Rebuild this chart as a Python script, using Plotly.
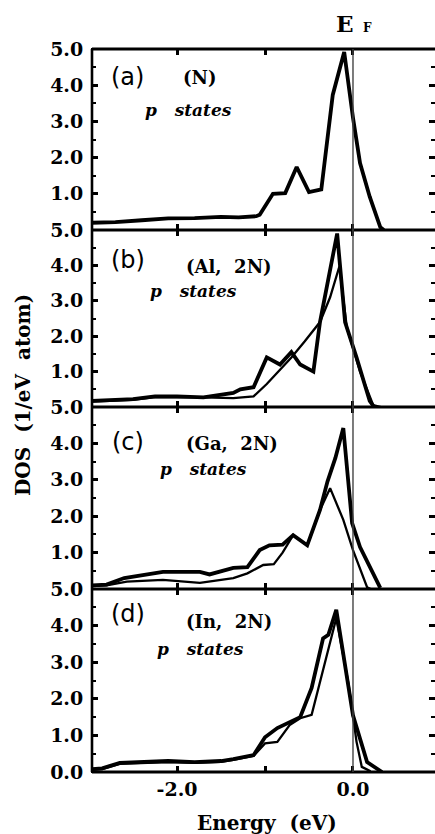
import plotly.graph_objects as go
from plotly.subplots import make_subplots

# ---------------- data ----------------
# panel (a) (N) p states
a_E = [-2.97, -2.7, -2.4, -2.1, -1.8, -1.5, -1.3, -1.1, -1.06, -0.91, -0.77, -0.64, -0.50, -0.36, -0.23, -0.10, 0.0, 0.08, 0.19, 0.31, 0.35]
a_D = [0.2, 0.22, 0.27, 0.32, 0.33, 0.36, 0.35, 0.38, 0.42, 1.0, 1.02, 1.74, 1.05, 1.12, 3.73, 4.92, 3.1, 1.85, 0.92, 0.08, 0.0]

# panel (b) (Al, 2N)
b1_E = [-2.97, -2.75, -2.5, -2.25, -2.0, -1.7, -1.36, -1.28, -1.13, -0.98, -0.83, -0.70, -0.60, -0.45, -0.375, -0.18, -0.09, 0.04, 0.19, 0.24]
b1_D = [0.17, 0.2, 0.22, 0.3, 0.3, 0.27, 0.4, 0.5, 0.56, 1.4, 1.2, 1.55, 1.2, 1.0, 2.4, 4.9, 2.4, 1.4, 0.17, 0.0]
b2_E = [-2.97, -2.75, -2.5, -2.25, -2.0, -1.7, -1.36, -1.13, -0.98, -0.83, -0.70, -0.55, -0.375, -0.26, -0.155, -0.07, 0.08, 0.23, 0.32]
b2_D = [0.15, 0.18, 0.2, 0.28, 0.28, 0.27, 0.25, 0.3, 0.65, 1.05, 1.4, 1.85, 2.4, 3.1, 3.97, 2.25, 1.0, 0.05, 0.0]

# panel (c) (Ga, 2N)
c1_E = [-2.97, -2.8, -2.6, -2.45, -2.16, -1.74, -1.63, -1.36, -1.2, -1.06, -0.95, -0.8, -0.68, -0.52, -0.375, -0.29, -0.2, -0.11, -0.01, 0.08, 0.19, 0.31]
c1_D = [0.1, 0.12, 0.3, 0.35, 0.47, 0.47, 0.4, 0.58, 0.6, 1.07, 1.2, 1.22, 1.48, 1.2, 2.17, 2.95, 3.6, 4.42, 1.81, 1.15, 0.6, 0.03]
c2_E = [-2.97, -2.8, -2.57, -2.16, -1.74, -1.36, -1.2, -1.02, -0.9, -0.8, -0.68, -0.52, -0.375, -0.26, -0.11, 0.0, 0.16, 0.2]
c2_D = [0.08, 0.1, 0.2, 0.25, 0.17, 0.3, 0.43, 0.66, 0.68, 1.0, 1.48, 1.2, 2.17, 2.77, 1.9, 1.07, 0.05, 0.0]

# panel (d) (In, 2N)
d1_E = [-2.97, -2.85, -2.65, -2.4, -2.1, -1.8, -1.5, -1.36, -1.13, -1.0, -0.86, -0.6, -0.47, -0.34, -0.28, -0.19, -0.07, 0.0, 0.16, 0.3, 0.33]
d1_D = [0.08, 0.1, 0.25, 0.28, 0.3, 0.27, 0.3, 0.35, 0.46, 0.95, 1.2, 1.5, 2.3, 3.65, 3.75, 4.43, 2.55, 1.55, 0.27, 0.05, 0.0]
d2_E = [-2.97, -2.85, -2.65, -2.4, -2.1, -1.8, -1.5, -1.36, -1.13, -1.0, -0.86, -0.72, -0.6, -0.47, -0.375, -0.19, -0.05, 0.0, 0.04, 0.1, 0.2]
d2_D = [0.06, 0.08, 0.22, 0.25, 0.27, 0.25, 0.28, 0.33, 0.44, 0.78, 0.82, 1.28, 1.47, 1.56, 2.46, 4.2, 2.4, 1.47, 0.83, 0.14, 0.02]

panel_tags = ["(a)", "(b)", "(c)", "(d)"]
panel_sys = ["(N)", "(Al,\u00a0\u00a02N)", "(Ga,\u00a0\u00a02N)", "(In,\u00a0\u00a02N)"]
state_text = "p\u00a0\u00a0\u00a0states"

y_tickvals = [0, 1, 2, 3, 4, 5]
y_ticktext = ["0.0", "1.0", "2.0", "3.0", "4.0", "5.0"]
x_tickvals = [-2, -1, 0]
x_ticktext = ["-2.0", "", "0.0"]

# ---------------- figure ----------------
W, H = 435, 834
ML, MR, MT, MB = 92, 0, 49, 62
fig = make_subplots(rows=4, cols=1, shared_xaxes=True, vertical_spacing=0)

thick = dict(color="black", width=3.8)
thin = dict(color="black", width=2.3)
series = [
    [(a_E, a_D, thick)],
    [(b1_E, b1_D, thick), (b2_E, b2_D, thin)],
    [(c1_E, c1_D, thick), (c2_E, c2_D, thin)],
    [(d1_E, d1_D, thick), (d2_E, d2_D, thin)],
]
for r, lst in enumerate(series, start=1):
    for E, D, ln in lst:
        fig.add_trace(go.Scatter(x=E, y=D, mode="lines", line=ln, showlegend=False,
                                 hoverinfo="skip"), row=r, col=1)

# panel boundaries in pixels -> paper domains
bounds_px = [49, 230, 407, 589, 772]
ph = H - MT - MB
def pf(ypx):
    return (H - MB - ypx) / ph
domains = [[pf(bounds_px[i + 1]), pf(bounds_px[i])] for i in range(4)]

tickfont = dict(family="DejaVu Serif", size=19, color="black", weight="bold")
for i in range(4):
    r = i + 1
    yv = y_tickvals if r == 4 else y_tickvals[1:]
    yt = y_ticktext if r == 4 else y_ticktext[1:]
    fig.update_yaxes(row=r, col=1, range=[0, 5], domain=domains[i],
                     tickvals=yv, ticktext=yt, ticks="inside", ticklen=6, tickwidth=2.5,
                     tickcolor="black", showline=True, linewidth=1, linecolor="black",
                     mirror="ticks", zeroline=False,
                     showgrid=False, tickfont=tickfont, ticklabelstandoff=4,
                     minor=dict(dtick=0.5, tick0=0, ticks="inside", ticklen=4, tickwidth=2,
                                tickcolor="black", showgrid=False))
    fig.update_xaxes(row=r, col=1, range=[-2.966, 0.932], tickvals=x_tickvals, ticktext=x_ticktext,
                     ticks="inside", ticklen=6, tickwidth=2.5, tickcolor="black",
                     showline=True, linewidth=1, linecolor="black", mirror="ticks",
                     zeroline=False, showgrid=False, showticklabels=(r == 4), tickfont=tickfont)

# frame: left line and horizontal panel borders
fig.add_shape(type="line", xref="paper", yref="paper", x0=0, x1=0, y0=0, y1=1,
              line=dict(color="black", width=2.6))
for b in bounds_px:
    fig.add_shape(type="line", xref="paper", yref="paper", x0=0, x1=1, y0=pf(b), y1=pf(b),
                  line=dict(color="black", width=2.8))
# Fermi level line
fig.add_shape(type="line", xref="x", yref="paper", x0=0, x1=0, y0=0, y1=1,
              line=dict(color="#444444", width=1.4))

# panel annotations
tag_y = [4.23, 4.15, 4.04, 4.32]
sys_y = [4.2, 3.98, 4.01, 4.1]
sys_x = [-1.74, -1.41, -1.375, -1.41]
st_y = [3.31, 3.28, 3.3, 3.36]
st_x = [-2.386, -2.33, -2.216, -2.25]
for i in range(4):
    xr = "x" if i == 0 else f"x{i+1}"
    yr = "y" if i == 0 else f"y{i+1}"
    fig.add_annotation(x=-2.557, y=tag_y[i], xref=xr, yref=yr, text=panel_tags[i], showarrow=False,
                       xanchor="center", yanchor="middle",
                       font=dict(family="DejaVu Sans", size=24, color="black"))
    fig.add_annotation(x=sys_x[i], y=sys_y[i], xref=xr, yref=yr, text=panel_sys[i], showarrow=False,
                       xanchor="center", yanchor="middle",
                       font=dict(family="DejaVu Serif", size=18, color="black", weight="bold"))
    fig.add_annotation(x=st_x[i], y=st_y[i], xref=xr, yref=yr, text=state_text, showarrow=False,
                       xanchor="left", yanchor="middle",
                       font=dict(family="DejaVu Serif", size=17, color="black", weight="bold", style="italic"))

# E_F label
fig.add_annotation(x=-0.09, y=pf(24), xref="x", yref="paper", text="E", showarrow=False,
                   xanchor="center", yanchor="middle",
                   font=dict(family="DejaVu Serif", size=23, color="black", weight="bold"))
fig.add_annotation(x=0.16, y=pf(28), xref="x", yref="paper", text="F", showarrow=False,
                   xanchor="center", yanchor="middle",
                   font=dict(family="DejaVu Serif", size=12, color="black", weight="bold"))

# axis titles
fig.add_annotation(x=(23 - ML) / (W - ML - MR), y=pf(395), xref="paper", yref="paper",
                   text="DOS\u00a0\u00a0(1/eV\u00a0\u00a0atom)", textangle=-90, showarrow=False,
                   xanchor="center", yanchor="middle",
                   font=dict(family="DejaVu Serif", size=20, color="black", weight="bold"))
fig.add_annotation(x=-0.977, y=pf(823), xref="x4", yref="paper",
                   text="Energy\u00a0\u00a0(eV)", showarrow=False,
                   xanchor="center", yanchor="middle",
                   font=dict(family="DejaVu Serif", size=20, color="black", weight="bold"))

fig.update_layout(width=W, height=H, margin=dict(l=ML, r=MR, t=MT, b=MB),
                  paper_bgcolor="white", plot_bgcolor="white")
fig.write_html("out.html")
